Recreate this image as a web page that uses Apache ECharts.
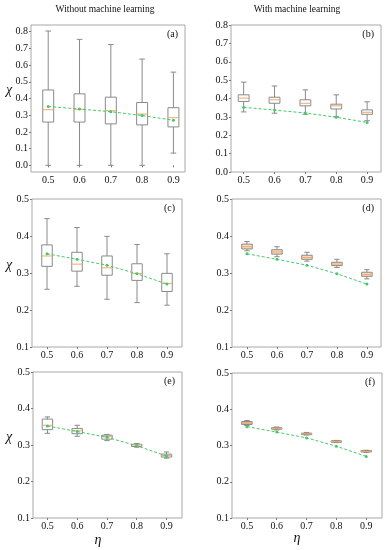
<!DOCTYPE html>
<html>
<head>
<meta charset="utf-8">
<script src="https://cdn.jsdelivr.net/npm/echarts@6/dist/echarts.min.js"></script>
<style>html,body{margin:0;padding:0;background:#fff;}#c{width:385px;height:550px;}</style>
</head>
<body>
<div id="c"></div>
<script>
// ---- data ----
const eta = [0.5, 0.6, 0.7, 0.8, 0.9];
const etaLabels = ['0.5', '0.6', '0.7', '0.8', '0.9'];
const theory = [0.352, 0.337, 0.321, 0.298, 0.270];
// each row: [min, Q1, median, Q3, max]
const boxA = [[0.000,0.259,0.333,0.451,0.804],[0.000,0.259,0.335,0.428,0.754],[0.000,0.248,0.327,0.408,0.723],[0.000,0.242,0.307,0.376,0.636],[0.073,0.230,0.285,0.345,0.558]];
const boxB = [[0.327,0.384,0.402,0.420,0.489],[0.320,0.374,0.393,0.407,0.468],[0.314,0.360,0.374,0.393,0.447],[0.301,0.343,0.360,0.369,0.420],[0.279,0.314,0.325,0.338,0.382]];
const boxC = [[0.256,0.318,0.346,0.376,0.447],[0.264,0.305,0.324,0.356,0.423],[0.229,0.294,0.314,0.346,0.399],[0.220,0.280,0.299,0.325,0.377],[0.213,0.250,0.272,0.299,0.352]];
const boxD = [[0.360,0.365,0.371,0.378,0.385],[0.344,0.351,0.357,0.363,0.371],[0.332,0.337,0.342,0.348,0.356],[0.315,0.320,0.324,0.329,0.337],[0.284,0.291,0.296,0.302,0.309]];
const boxE = [[0.332,0.342,0.354,0.371,0.377],[0.324,0.331,0.339,0.345,0.354],[0.312,0.316,0.323,0.327,0.329],[0.294,0.296,0.300,0.302,0.304],[0.264,0.267,0.271,0.275,0.281]];
const boxF = [[0.355,0.358,0.362,0.366,0.369],[0.343,0.345,0.347,0.349,0.351],[0.329,0.330,0.332,0.334,0.336],[0.308,0.309,0.311,0.313,0.314],[0.281,0.282,0.284,0.286,0.287]];
const yTicksAB = [0.0, 0.1, 0.2, 0.3, 0.4, 0.5, 0.6, 0.7, 0.8];
const yTicksCF = [0.1, 0.2, 0.3, 0.4, 0.5];
const colTitles = ['Without machine learning', 'With machine learning'];
const panelLabels = ['(a)', '(b)', '(c)', '(d)', '(e)', '(f)'];

// ---- layout ----
const FONT = '"Liberation Serif", "DejaVu Serif", serif';
const panels = [
  {box: boxA, grid: {left: 31, top: 25, width: 154, height: 147}, x: [0.445, 0.937], y: [-0.04, 0.84], ticks: yTicksAB, fill: 'rgba(0,0,0,0)'},
  {box: boxB, grid: {left: 231, top: 25, width: 150, height: 147}, x: [0.459, 0.945], y: [0, 0.8], ticks: yTicksAB, fill: 'rgba(0,0,0,0)'},
  {box: boxC, grid: {left: 32, top: 199, width: 150, height: 148}, x: [0.45, 0.95], y: [0.1, 0.5], ticks: yTicksCF, fill: 'rgba(0,0,0,0)'},
  {box: boxD, grid: {left: 232, top: 199, width: 149, height: 148}, x: [0.45, 0.947], y: [0.1, 0.5], ticks: yTicksCF, fill: '#fbdcc2'},
  {box: boxE, grid: {left: 33, top: 372, width: 149, height: 146}, x: [0.4516, 0.952], y: [0.1, 0.5], ticks: yTicksCF, fill: 'rgba(0,0,0,0)'},
  {box: boxF, grid: {left: 232, top: 373, width: 150, height: 145}, x: [0.45, 0.953], y: [0.1, 0.5], ticks: yTicksCF, fill: '#d8b9a9'}
];
const BOX_W = 0.035, CAP_W = 0.018;
const GRAY = '#8a8a8a', ORANGE = '#f6a863', GREEN = '#45c96a';

const grids = [], xAxes = [], yAxes = [], series = [], graphics = [];
panels.forEach((p, i) => {
  grids.push(Object.assign({show: true, borderColor: '#a8a8a8', borderWidth: 1, backgroundColor: '#fff'}, p.grid));
  xAxes.push({
    type: 'value', gridIndex: i, min: p.x[0], max: p.x[1],
    axisLine: {show: false}, splitLine: {show: false},
    axisTick: {show: true, length: 2, lineStyle: {color: '#777'}, customValues: eta},
    axisLabel: {customValues: eta, formatter: v => etaLabels[eta.indexOf(Math.round(v * 10) / 10)] || '', fontFamily: FONT, fontSize: 10, color: '#111', margin: 3}
  });
  yAxes.push({
    type: 'value', gridIndex: i, min: p.y[0], max: p.y[1],
    axisLine: {show: false}, splitLine: {show: false},
    axisTick: {show: true, length: 2, lineStyle: {color: '#777'}, customValues: p.ticks},
    axisLabel: {customValues: p.ticks, formatter: v => v.toFixed(1), fontFamily: FONT, fontSize: 10, color: '#111', margin: 3}
  });
  const data = p.box.map((r, k) => [eta[k]].concat(r));
  const fill = p.fill;
  series.push({
    type: 'custom', xAxisIndex: i, yAxisIndex: i, data: data, z: 2,
    encode: {x: 0, y: [1, 2, 3, 4, 5]},
    renderItem: function (params, api) {
      const x = api.value(0);
      const mn = api.value(1), q1 = api.value(2), md = api.value(3), q3 = api.value(4), mx = api.value(5);
      const tl = api.coord([x - BOX_W / 2, q3]);
      const br = api.coord([x + BOX_W / 2, q1]);
      const cMin = api.coord([x, mn]), cMax = api.coord([x, mx]);
      const cq1 = api.coord([x, q1]), cq3 = api.coord([x, q3]);
      const cl = api.coord([x - CAP_W / 2, mn])[0], cr = api.coord([x + CAP_W / 2, mn])[0];
      const med = api.coord([x, md])[1];
      const ls = {stroke: GRAY, lineWidth: 1, fill: null};
      return {
        type: 'group', children: [
          {type: 'line', shape: {x1: cMin[0], y1: cMin[1], x2: cq1[0], y2: cq1[1]}, style: ls},
          {type: 'line', shape: {x1: cq3[0], y1: cq3[1], x2: cMax[0], y2: cMax[1]}, style: ls},
          {type: 'line', shape: {x1: cl, y1: cMin[1], x2: cr, y2: cMin[1]}, style: ls},
          {type: 'line', shape: {x1: cl, y1: cMax[1], x2: cr, y2: cMax[1]}, style: ls},
          {type: 'rect', shape: {x: tl[0], y: tl[1], width: br[0] - tl[0], height: br[1] - tl[1]}, style: {stroke: GRAY, lineWidth: 1, fill: fill}},
          {type: 'line', shape: {x1: tl[0], y1: med, x2: br[0], y2: med}, style: {stroke: ORANGE, lineWidth: 1}}
        ]
      };
    }
  });
  series.push({
    type: 'line', xAxisIndex: i, yAxisIndex: i, z: 3,
    data: theory.map((v, k) => [eta[k], v]),
    symbol: 'circle', symbolSize: 3, showSymbol: true,
    lineStyle: {color: GREEN, width: 1, type: [3, 2]},
    itemStyle: {color: GREEN}, animation: false
  });
  const g = p.grid;
  graphics.push({type: 'text', x: g.left + g.width - 7, y: g.top + 9, style: {text: panelLabels[i], font: '10px ' + FONT, fill: '#111', align: 'right', verticalAlign: 'middle'}});
});

// column titles
graphics.push({type: 'text', x: 105, y: 9, style: {text: colTitles[0], font: '9.5px ' + FONT, fill: '#111', align: 'center', verticalAlign: 'middle'}});
graphics.push({type: 'text', x: 297, y: 9, style: {text: colTitles[1], font: '9.5px ' + FONT, fill: '#111', align: 'center', verticalAlign: 'middle'}});
// y labels χ
[90, 265, 437].forEach(y => graphics.push({type: 'text', x: 9, y: y, style: {text: 'χ', font: 'italic 14px ' + FONT, fill: '#111', align: 'center', verticalAlign: 'middle'}}));
// x labels η
[[98, 540], [297, 538]].forEach(p => graphics.push({type: 'text', x: p[0], y: p[1], style: {text: 'η', font: 'italic 14px ' + FONT, fill: '#111', align: 'center', verticalAlign: 'middle'}}));

const chart = echarts.init(document.getElementById('c'), null, {renderer: 'canvas'});
chart.setOption({
  animation: false,
  backgroundColor: '#fff',
  grid: grids, xAxis: xAxes, yAxis: yAxes, series: series, graphic: graphics
});
</script>
</body>
</html>
